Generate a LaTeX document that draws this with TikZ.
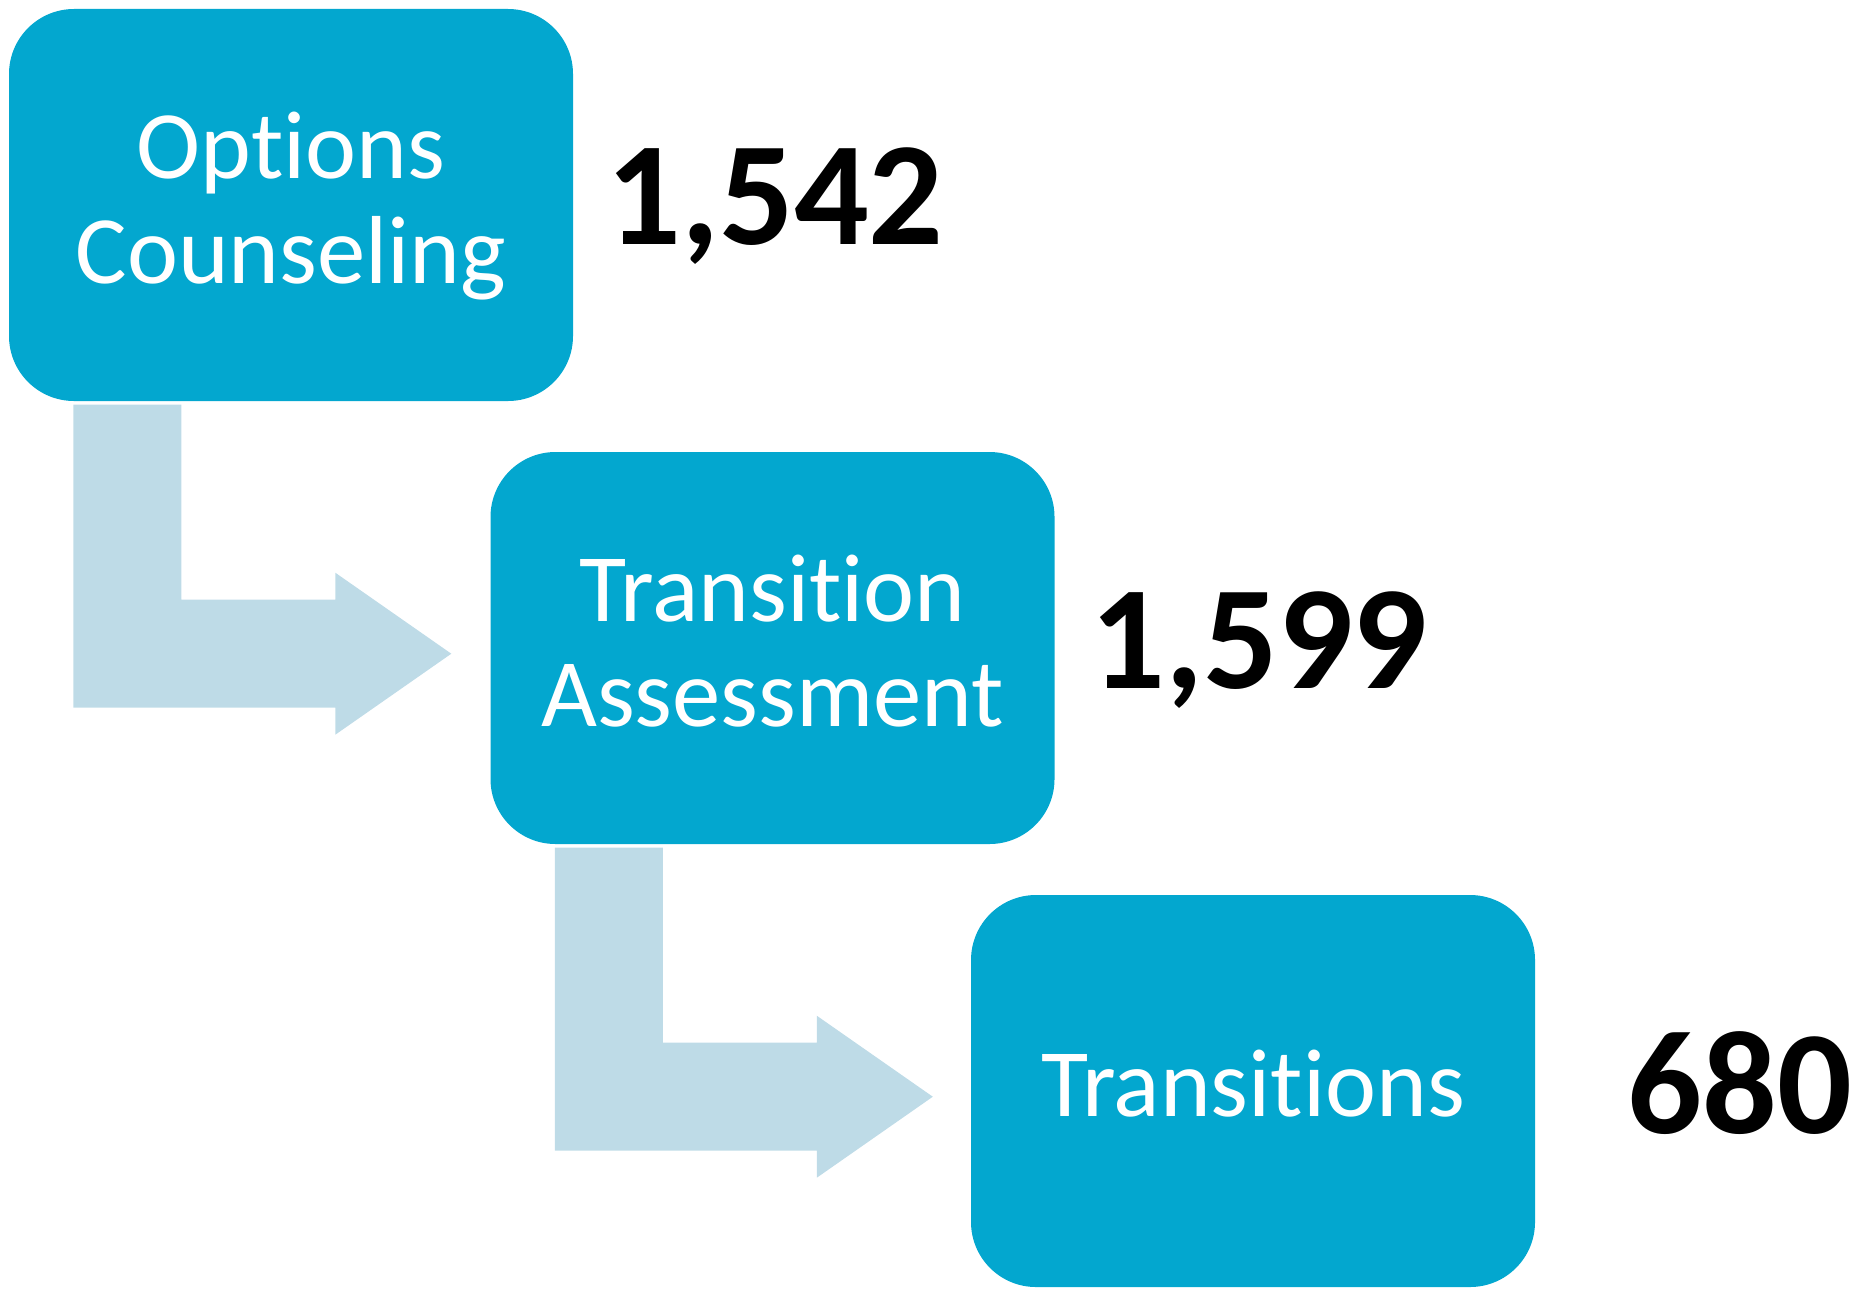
\documentclass[tikz,border=0pt]{standalone}
\usepackage{fontspec}
\setmainfont{Carlito}[Ligatures={NoCommon,NoRare},RawFeature={-liga;-dlig}]
\usepackage{tikz}
\usetikzlibrary{positioning}

\definecolor{boxblue}{RGB}{3,167,207}
\definecolor{arrowblue}{RGB}{190,219,231}

\begin{document}
\begin{tikzpicture}[x=1cm,y=1cm,
	box/.style={rectangle,fill=boxblue,draw=none,rounded corners=0.65cm,minimum width=5.64cm,minimum height=3.92cm,inner sep=0pt,align=center,text=white,text depth=0.15cm,font=\fontsize{27.5}{30}\selectfont},
	num/.style={anchor=base,inner sep=0pt,font=\fontsize{42}{46}\selectfont\bfseries},
	bentarrow/.style={fill=arrowblue,draw=none}]

			\useasboundingbox (0,0) rectangle (18.63,12.89);

			%steps
			\node [box] (opt) at (2.91,10.84) {Options\\Counseling};
			\node [box] (assess) at (7.725,6.41) {Transition\\Assessment};
			\node [box] (trans) at (12.53,1.98) {Transitions};

			%counts
			\node [num] (n1) at (7.75,10.443) {1,542};
			\node [num] (n2) at (12.59,6.01) {1,599};
			\node [num] (n3) at (17.40,1.56) {680};

			%bent arrows
			\fill[bentarrow] ([xshift=0.65cm,yshift=-0.03cm]opt.south west) -- ++(0,-3.03) -- ++(2.62,0) -- ++(0,-0.27) -- ++(1.16,0.81) -- ++(-1.16,0.81) -- ++(0,-0.27) -- ++(-1.54,0) -- ++(0,1.95) -- cycle;
			\fill[bentarrow] ([xshift=0.65cm,yshift=-0.03cm]assess.south west) -- ++(0,-3.03) -- ++(2.62,0) -- ++(0,-0.27) -- ++(1.16,0.81) -- ++(-1.16,0.81) -- ++(0,-0.27) -- ++(-1.54,0) -- ++(0,1.95) -- cycle;
		\end{tikzpicture}
\end{document}
